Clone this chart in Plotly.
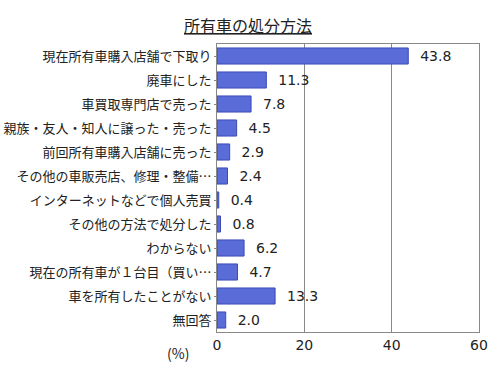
import plotly.graph_objects as go

categories = [
    "現在所有車購入店舗で下取り",
    "廃車にした",
    "車買取専門店で売った",
    "親族・友人・知人に譲った・売った",
    "前回所有車購入店舗に売った",
    "その他の車販売店、修理・整備…",
    "インターネットなどで個人売買",
    "その他の方法で処分した",
    "わからない",
    "現在の所有車が１台目（買い…",
    "車を所有したことがない",
    "無回答",
]
values = [43.8, 11.3, 7.8, 4.5, 2.9, 2.4, 0.4, 0.8, 6.2, 4.7, 13.3, 2.0]
x_ticks = [0, 20, 40, 60]

font_family = "Noto Sans CJK JP, Noto Sans, sans-serif"

fig = go.Figure()
fig.add_trace(go.Bar(
    y=categories,
    x=values,
    orientation="h",
    marker=dict(color="#5a6cd8", line=dict(color="#3a4bb5", width=1)),
    text=[f"  {v:.1f}" for v in values],
    textposition="outside",
    constraintext="none",
    textfont=dict(size=14, color="#222222", family="DejaVu Sans, sans-serif"),
    cliponaxis=False,
    hoverinfo="skip",
))

fig.update_layout(
    width=500, height=375,
    margin=dict(l=217, r=21, t=44, b=43, autoexpand=False),
    paper_bgcolor="white",
    plot_bgcolor="white",
    showlegend=False,
    bargap=0.33,
    font=dict(family=font_family, size=13, color="#222222"),
    xaxis=dict(
        range=[0, 60], tickvals=x_ticks, ticktext=[str(t) for t in x_ticks],
        showgrid=True, gridcolor="#888888", gridwidth=1,
        showline=True, linecolor="#888888", mirror=True,
        zeroline=False, tickfont=dict(size=14, family="DejaVu Sans, sans-serif"),
        ticks="", ticklen=0, automargin=False,
    ),
    yaxis=dict(
        autorange="reversed", showline=True, linecolor="#888888", mirror=True,
        ticks="outside", ticklen=2, tickcolor="#888888",
        tickfont=dict(size=13), showgrid=False, automargin=False,
    ),
    annotations=[
        dict(text="<u>所有車の処分方法</u>", x=248, y=24, xref="paper", yref="paper",
             showarrow=False, font=dict(size=16, color="#222222")),
        dict(text="(%)", x=0, y=0, xref="paper", yref="paper", showarrow=False,
             font=dict(size=14, color="#222222")),
    ],
)
pw, ph = 500 - 217 - 21, 375 - 44 - 43
fig.layout.annotations[0].update(x=(248 - 217) / pw, y=(331 - 24) / ph, xanchor="center", yanchor="middle")
fig.layout.annotations[1].update(x=(178 - 217) / pw, y=(331 - 352) / ph, xanchor="center", yanchor="middle")

fig.write_html("out.html", config={"displayModeBar": False},
               post_script="document.body.style.margin='0';")
